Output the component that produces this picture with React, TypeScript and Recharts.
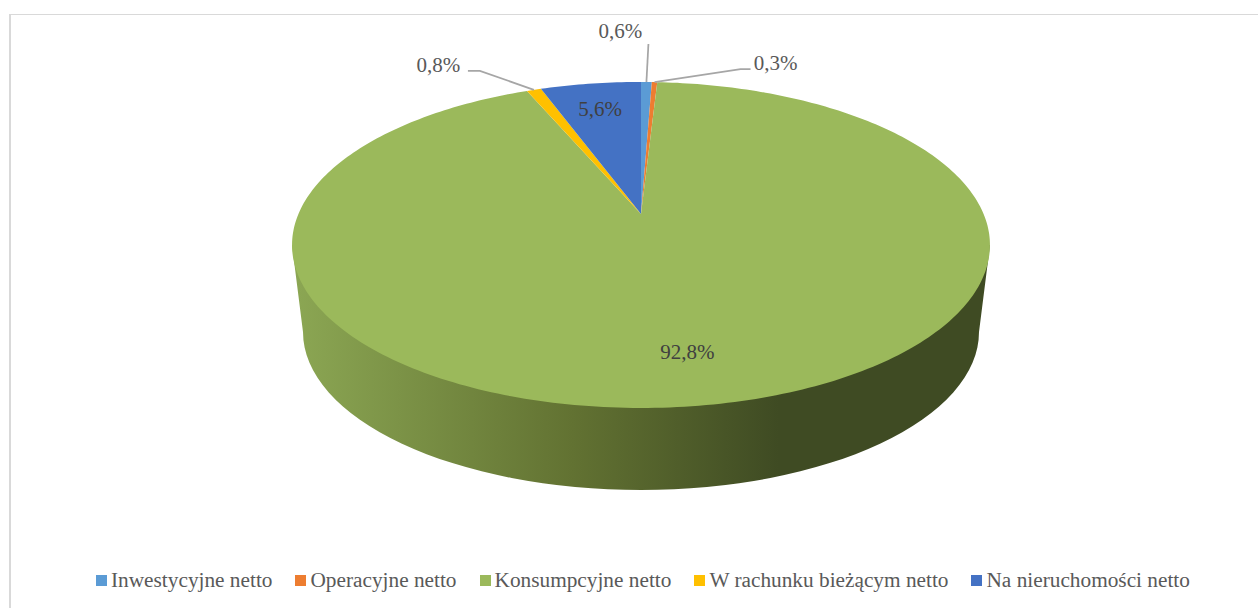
import { Legend, Pie, PieChart } from 'recharts';

const categories = ['Inwestycyjne netto', 'Operacyjne netto', 'Konsumpcyjne netto', 'W rachunku bieżącym netto', 'Na nieruchomości netto'];
const shares = [0.6, 0.3, 92.8, 0.8, 5.6];
const colors = ['#5b9bd5', '#ed7d31', '#9bb95b', '#ffc000', '#4472c4'];

const rows = categories.map((name, i) => ({ name, value: shares[i], fill: colors[i] }));
const wallRows = [{ name: 'wall', value: 1 }];

const FONT = '"Liberation Serif", serif';

// perspective of the tilted disc: maps the unit circle onto the top ellipse
const HALF_W = 342.6;
const HALF_H = 157.1;
const TILT = -0.19;

function project(cx: number, cy: number, angle: number, r = 1) {
    const rad = (angle * Math.PI) / 180;
    const u = r * Math.cos(rad);
    const v = -r * Math.sin(rad);
    const w = 1 + TILT * v;
    return { x: cx + (HALF_W * u) / w, y: cy + (HALF_H * v) / w };
}

function sectorPath(cx: number, cy: number, start: number, end: number) {
    const steps = Math.max(2, Math.ceil(Math.abs(end - start)));
    let d = `M${cx},${cy}`;
    for (let i = 0; i <= steps; i++) {
        const p = project(cx, cy, start + ((end - start) * i) / steps);
        d += `L${p.x.toFixed(2)},${p.y.toFixed(2)}`;
    }
    return d + 'Z';
}

const renderSector = (props: any) => (
    <path d={sectorPath(props.cx, props.cy, props.startAngle, props.endAngle)} fill={props.fill} stroke="none" />
);

// side of the pie, drawn under the top face
const renderWall = () => (
    <path d="M292,245 L303,332 A338,158 0 0 0 979,332 L990,245 Z" fill="url(#wallShade)" stroke="none" />
);

// text centre and leader line relative to the edge of each slice
const labelLayout = [
    { dx: -26, dy: -51, line: [[2, -38]] },
    { dx: 121, dy: -19, line: [[86, -13], [96, -13]] },
    { dx: -26, dy: -52, line: [] },
    { dx: -95.5, dy: -25, line: [[-54, -19], [-66, -19]] },
    { dx: 9.5, dy: 25, line: [] },
];

const renderLabel = (props: any) => {
    const { cx, cy, midAngle, index, value } = props;
    const edge = project(cx, cy, midAngle);
    const layout = labelLayout[index];
    const inside = layout.line.length === 0;
    const points = [[edge.x, edge.y], ...layout.line.map(([dx, dy]) => [edge.x + dx, edge.y + dy])];
    return (
        <g>
            {!inside && <polyline points={points.join(' ')} fill="none" stroke="#a6a6a6" strokeWidth={1.75} />}
            <text
                x={edge.x + layout.dx}
                y={edge.y + layout.dy}
                textAnchor="middle"
                dominantBaseline="central"
                fontFamily={FONT}
                fontSize={21}
                fill={inside ? '#404040' : '#595959'}
            >
                {value.toFixed(1).replace('.', ',')}%
            </text>
        </g>
    );
};

const renderLegend = (props: any) => (
    <div style={{ display: 'flex', gap: 23, fontFamily: FONT, fontSize: 21.3, color: '#595959', whiteSpace: 'nowrap' }}>
        {props.payload
            .filter((entry: any) => categories.includes(entry.value))
            .map((entry: any) => (
                <span key={entry.value} style={{ display: 'flex', alignItems: 'center', gap: 4 }}>
                    <span style={{ width: 11, height: 11, background: entry.color, display: 'inline-block' }} />
                    {entry.value}
                </span>
            ))}
    </div>
);

export default function App() {
    return (
        <div style={{ position: 'absolute', left: 0, top: 0, width: 1258, height: 608, overflow: 'hidden', background: '#fff' }}>
            <div style={{ position: 'absolute', left: 9, top: 14, right: 0, bottom: 0, borderTop: '1px solid #d9d9d9', borderLeft: '2px solid #d9d9d9' }} />
            <div style={{ position: 'absolute', left: 0, top: 0 }}>
                <PieChart width={1258} height={608} margin={{ top: 0, right: 0, bottom: 0, left: 0 }}>
                    <defs>
                        <linearGradient id="wallShade" gradientUnits="userSpaceOnUse" x1="297" y1="0" x2="985" y2="0">
                            <stop offset="0" stopColor="#8ba653" />
                            <stop offset="0.4" stopColor="#627232" />
                            <stop offset="0.7" stopColor="#3f4b23" />
                            <stop offset="1" stopColor="#3f4b23" />
                        </linearGradient>
                    </defs>
                    <Pie
                        data={wallRows}
                        dataKey="value"
                        cx={641}
                        cy={214}
                        outerRadius={100}
                        legendType="none"
                        shape={renderWall}
                        label={false}
                        labelLine={false}
                        isAnimationActive={false}
                    />
                    <Pie
                        data={rows}
                        dataKey="value"
                        nameKey="name"
                        cx={641}
                        cy={214}
                        outerRadius={100}
                        startAngle={90}
                        endAngle={-270}
                        shape={renderSector}
                        label={renderLabel}
                        labelLine={false}
                        isAnimationActive={false}
                    />
                    <Legend
                        content={renderLegend}
                        itemSorter={null}
                        wrapperStyle={{ position: 'absolute', left: 96, top: 568, width: 'auto' }}
                    />
                </PieChart>
            </div>
        </div>
    );
}
